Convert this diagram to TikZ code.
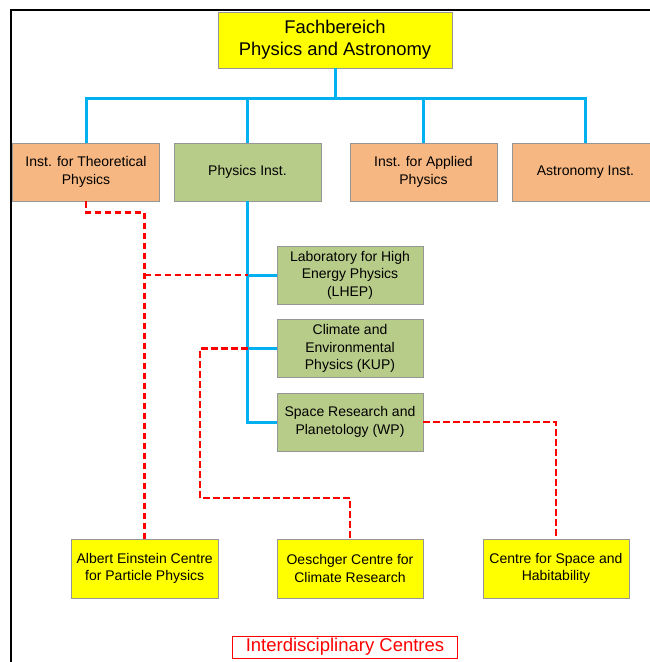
\documentclass[tikz,border=0pt]{standalone}
\usepackage{fontspec}
\setmainfont{Liberation Sans}
\definecolor{boxyellow}{RGB}{255,255,0}
\definecolor{boxorange}{RGB}{246,183,130}
\definecolor{boxgreen}{RGB}{184,204,138}
\definecolor{boxedge}{RGB}{150,150,150}
\definecolor{busblue}{RGB}{0,176,240}
\definecolor{linkred}{RGB}{255,0,0}
\begin{document}
\begin{tikzpicture}[x=1pt,y=-1pt,
  unit/.style={draw=boxedge,line width=0.6pt,align=center,inner sep=2pt,
    minimum width=147pt,minimum height=58pt,
    font=\fontsize{14}{17.5}\selectfont},
  orangebox/.style={unit,fill=boxorange},
  greenbox/.style={unit,fill=boxgreen},
  yellowbox/.style={unit,fill=boxyellow},
  busline/.style={draw=busblue,line width=3pt},
  linkline/.style={draw=linkred,line width=2.8pt,dash pattern=on 6.5pt off 3.5pt}]
\clip (0,0) rectangle (650,662);
% frame
\draw[line width=1.6pt] (11,662) -- (11,10) -- (650,10);
% nodes
\node[yellowbox,minimum width=234pt,minimum height=56pt,
  font=\fontsize{18.4}{22}\selectfont] (top) at (335,40) {Fachbereich\\Physics and Astronomy};
\node[orangebox] (theo) at (86,172) {Inst. for Theoretical\\Physics};
\node[greenbox] (phys) at (247.5,172) {Physics Inst.};
\node[orangebox] (appl) at (423.5,172) {Inst. for Applied\\Physics};
\node[orangebox] (astro) at (585.5,172) {Astronomy Inst.};
\node[greenbox,minimum width=146pt] (lhep) at (350,275) {Laboratory for High\\Energy Physics\\(LHEP)};
\node[greenbox,minimum width=146pt] (kup) at (350,348.5) {Climate and\\Environmental\\Physics (KUP)};
\node[greenbox,minimum width=146pt] (wp) at (350,422) {Space Research and\\Planetology (WP)};
\node[yellowbox,minimum height=59pt] (albert) at (144.7,568.5) {Albert Einstein Centre\\for Particle Physics};
\node[yellowbox,minimum width=146pt,minimum height=59pt] (oesch) at (350,568.5) {Oeschger Centre for\\Climate Research};
\node[yellowbox,minimum width=146pt,minimum height=59pt] (space) at (556,568.5) {Centre for Space and\\Habitability};
\node[draw=linkred,line width=0.8pt,text=linkred,minimum width=225pt,minimum height=22pt,inner sep=1pt,
  font=\fontsize{18.5}{20}\selectfont] (centres) at (345,647) {Interdisciplinary Centres};
% coordinates
\coordinate (bus) at (335,98);
\coordinate (r1) at (86,212.5);
\coordinate (r2) at (200,498);
% blue tree
\draw[busline] (top.south) -- (bus);
\draw[busline] (theo.north) |- (bus);
\draw[busline] (bus) -| (astro.north);
\draw[busline] (phys.north) -- (phys.north |- bus);
\draw[busline] (appl.north) -- (appl.north |- bus);
\draw[busline] (phys.south) |- (wp.west);
\draw[busline] (phys.south |- lhep.west) -- (lhep.west);
\draw[busline] (phys.south |- kup.west) -- (kup.west);
% red links
\draw[linkline] (theo.south) -- (r1) -| (albert.north);
\draw[linkline] (albert.north |- lhep.west) -- (phys.south |- lhep.west);
\draw[linkline] (phys.south |- kup.west) -| (r2) -| (oesch.north);
\draw[linkline] (wp.east) -| (space.north);
\end{tikzpicture}
\end{document}
